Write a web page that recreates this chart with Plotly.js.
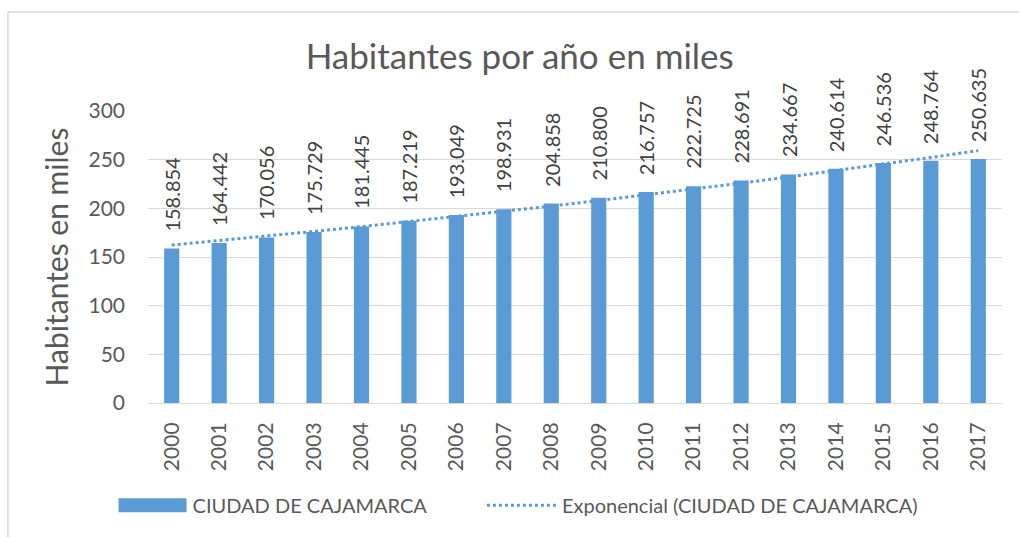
<!DOCTYPE html>
<html>
<head>
<meta charset="utf-8">
<script src="https://cdn.plot.ly/plotly-3.0.1.min.js"></script>
<style>
  html, body { margin: 0; padding: 0; background: #ffffff; }
  #chart { width: 1019px; height: 537px; }
</style>
</head>
<body>
<div id="chart"></div>
<script>
const years = ['2000','2001','2002','2003','2004','2005','2006','2007','2008','2009','2010','2011','2012','2013','2014','2015','2016','2017'];
const habitantes = [158.854,164.442,170.056,175.729,181.445,187.219,193.049,198.931,204.858,210.800,216.757,222.725,228.691,234.667,240.614,246.536,248.764,250.635];
const labels = ['158.854','164.442','170.056','175.729','181.445','187.219','193.049','198.931','204.858','210.800','216.757','222.725','228.691','234.667','240.614','246.536','248.764','250.635'];
const tendencia = [162.3,166.8,171.5,176.3,181.2,186.3,191.5,196.8,202.3,208.0,213.8,219.8,225.9,232.2,238.7,245.4,252.3,259.3];
const yTicks = [0,50,100,150,200,250,300];

const FONT = 'Lato, "Liberation Sans", sans-serif';
const GREY = '#595959';
const BLUE = '#5B9BD5';

const traces = [
  {
    type: 'bar',
    name: 'CIUDAD DE CAJAMARCA',
    x: years,
    y: habitantes,
    marker: { color: BLUE },
    legend: 'legend',
    hoverinfo: 'x+y'
  },
  {
    type: 'scatter',
    mode: 'lines',
    name: 'Exponencial (CIUDAD DE CAJAMARCA)',
    x: years,
    y: tendencia,
    line: { color: BLUE, width: 3, dash: 'dot' },
    legend: 'legend2',
    hoverinfo: 'skip'
  }
];

const annotations = years.map((yr, i) => ({
  x: i,
  y: habitantes[i],
  xref: 'x',
  yref: 'y',
  text: labels[i],
  showarrow: false,
  textangle: -90,
  xanchor: 'center',
  yanchor: 'bottom',
  yshift: 15,
  font: { family: FONT, size: 20, color: '#404040' }
}));

const legendCommon = {
  orientation: 'h',
  y: -0.35, yanchor: 'middle',
  xanchor: 'left',
  font: { family: FONT, size: 20, color: GREY },
  itemwidth: 70,
  bgcolor: 'rgba(0,0,0,0)'
};

const layout = {
  width: 1019,
  height: 537,
  paper_bgcolor: '#ffffff',
  plot_bgcolor: '#ffffff',
  margin: { l: 148, r: 17, t: 111, b: 134, pad: 0 },
  title: {
    text: 'Habitantes por año en miles',
    font: { family: FONT, size: 35, color: GREY },
    x: 0.51, xref: 'container', xanchor: 'center',
    y: 0.895, yanchor: 'middle'
  },
  bargap: 0.68,
  xaxis: {
    type: 'category',
    categoryorder: 'array',
    categoryarray: years,
    range: [-0.5, years.length - 0.5],
    autorange: false,
    tickangle: -90,
    tickfont: { family: FONT, size: 21, color: GREY },
    showgrid: false,
    showline: true,
    linecolor: '#d9d9d9',
    linewidth: 1,
    ticks: '',
    ticklabelstandoff: 10,
    fixedrange: true
  },
  yaxis: {
    range: [0, 300],
    autorange: false,
    tickvals: yTicks,
    ticktext: yTicks.map(String),
    tickfont: { family: FONT, size: 21, color: GREY },
    showgrid: true,
    gridcolor: '#d9d9d9',
    gridwidth: 1,
    zeroline: false,
    showline: false,
    ticks: '',
    ticklabelstandoff: 22,
    title: {
      text: 'Habitantes en miles',
      font: { family: FONT, size: 30, color: GREY },
      standoff: 10
    },
    fixedrange: true
  },
  showlegend: true,
  legend: Object.assign({}, legendCommon, { x: -0.0415 }),
  legend2: Object.assign({}, legendCommon, { x: 0.391 }),
  annotations: annotations,
  shapes: [
    { type: 'line', xref: 'paper', yref: 'paper', x0: -0.164, x1: 1.03, y0: 1.339, y1: 1.339, line: { color: '#d9d9d9', width: 1.5 }, layer: 'below' },
    { type: 'line', xref: 'paper', yref: 'paper', x0: -0.164, x1: -0.164, y0: 1.339, y1: -0.47, line: { color: '#d9d9d9', width: 1.5 }, layer: 'below' }
  ]
};

Plotly.newPlot('chart', traces, layout, { displayModeBar: false, staticPlot: true }).then(gd => {
  // widen the bar legend swatch into a long rectangle like the original
  gd.querySelectorAll('.legendpoints path').forEach(p => {
    const d = p.getAttribute('d') || '';
    if (/^M6,6H-6V-6H6Z$/.test(d.replace(/\s/g, ''))) {
      p.setAttribute('d', 'M34,7H-34V-7H34Z');
    }
  });
});
</script>
</body>
</html>
